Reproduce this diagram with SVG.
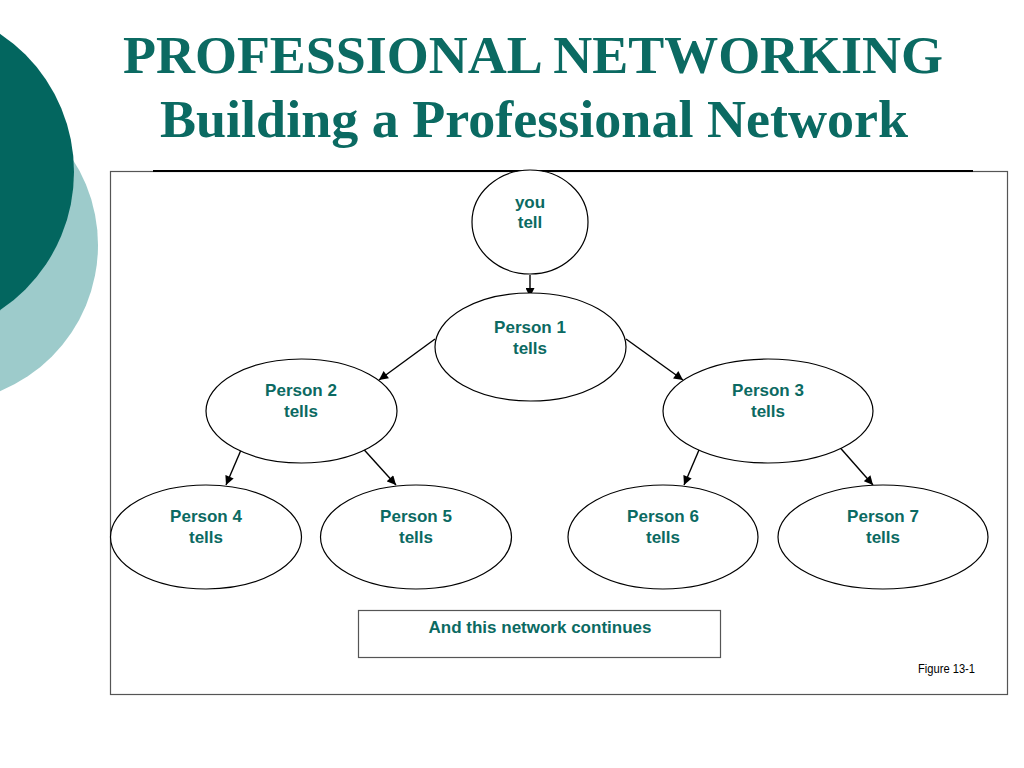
<svg xmlns="http://www.w3.org/2000/svg" width="1024" height="768" viewBox="0 0 1024 768">
<defs>
<style>
.title{font-family:"Liberation Serif","Times New Roman",serif;font-weight:bold;font-size:52px;fill:#0B6A62;}
.node{fill:#fff;stroke:#000;stroke-width:1.2;}
.lbl{font-family:"Liberation Sans",Arial,sans-serif;font-weight:bold;font-size:17px;fill:#0B6A62;text-anchor:middle;}
.edge{stroke:#000;stroke-width:1.4;fill:none;marker-end:url(#arr);}
.small{font-family:"Liberation Sans Narrow","Liberation Sans",Arial,sans-serif;font-size:12px;fill:#000;}
</style>
<marker id="arr" viewBox="0 0 10 10" refX="10" refY="5" markerWidth="10" markerHeight="9" markerUnits="userSpaceOnUse" orient="auto">
<path d="M0,0 L10,5 L0,10 z" fill="#000"/>
</marker>
</defs>
<rect width="1024" height="768" fill="#fff"/>
<g id="decor">
<circle cx="-60" cy="245" r="158" fill="#9DCBCB"/>
<circle cx="-92" cy="172" r="166" fill="#03665F"/>
</g>
<g id="title">
<text class="title" x="123" y="73" textLength="820" lengthAdjust="spacingAndGlyphs">PROFESSIONAL NETWORKING</text>
<text class="title" x="160" y="137" textLength="748" lengthAdjust="spacingAndGlyphs">Building a Professional Network</text>
</g>
<g id="frame">
<rect x="110.5" y="171.5" width="897" height="523" fill="none" stroke="#555" stroke-width="1.2"/>
<line x1="153" y1="171" x2="973" y2="171" stroke="#000" stroke-width="2"/>
</g>
<g id="connectors">
<line class="edge" x1="530" y1="275" x2="530" y2="297"/>
<line class="edge" x1="435" y1="339" x2="379" y2="380"/>
<line class="edge" x1="626" y1="339" x2="683" y2="380"/>
<line class="edge" x1="244" y1="443" x2="226" y2="485"/>
<line class="edge" x1="358" y1="443" x2="396" y2="485"/>
<line class="edge" x1="702" y1="443" x2="684" y2="485"/>
<line class="edge" x1="836" y1="443" x2="873" y2="485"/>
</g>
<g id="you">
<ellipse class="node" cx="530" cy="222" rx="58" ry="52"/>
<text class="lbl" x="530" y="208">you</text>
<text class="lbl" x="530" y="228">tell</text>
</g>
<g id="p1">
<ellipse class="node" cx="530.5" cy="347" rx="95.5" ry="54"/>
<text class="lbl" x="530" y="333">Person 1</text>
<text class="lbl" x="530" y="354">tells</text>
</g>
<g id="p2">
<ellipse class="node" cx="301.5" cy="411" rx="95.5" ry="52"/>
<text class="lbl" x="301" y="396">Person 2</text>
<text class="lbl" x="301" y="417">tells</text>
</g>
<g id="p3">
<ellipse class="node" cx="768" cy="411" rx="105" ry="52"/>
<text class="lbl" x="768" y="396">Person 3</text>
<text class="lbl" x="768" y="417">tells</text>
</g>
<g id="p4">
<ellipse class="node" cx="206" cy="537" rx="95.5" ry="52"/>
<text class="lbl" x="206" y="522">Person 4</text>
<text class="lbl" x="206" y="543">tells</text>
</g>
<g id="p5">
<ellipse class="node" cx="416" cy="537" rx="95.5" ry="52"/>
<text class="lbl" x="416" y="522">Person 5</text>
<text class="lbl" x="416" y="543">tells</text>
</g>
<g id="p6">
<ellipse class="node" cx="663" cy="537" rx="95" ry="52"/>
<text class="lbl" x="663" y="522">Person 6</text>
<text class="lbl" x="663" y="543">tells</text>
</g>
<g id="p7">
<ellipse class="node" cx="883" cy="537" rx="105" ry="52"/>
<text class="lbl" x="883" y="522">Person 7</text>
<text class="lbl" x="883" y="543">tells</text>
</g>
<g id="continues">
<rect x="358.5" y="610.5" width="362" height="47" fill="#fff" stroke="#555" stroke-width="1.2"/>
<text class="lbl" x="540" y="633">And this network continues</text>
</g>
<g id="caption">
<text class="small" x="918" y="673" textLength="57" lengthAdjust="spacingAndGlyphs">Figure 13-1</text>
</g>
</svg>
